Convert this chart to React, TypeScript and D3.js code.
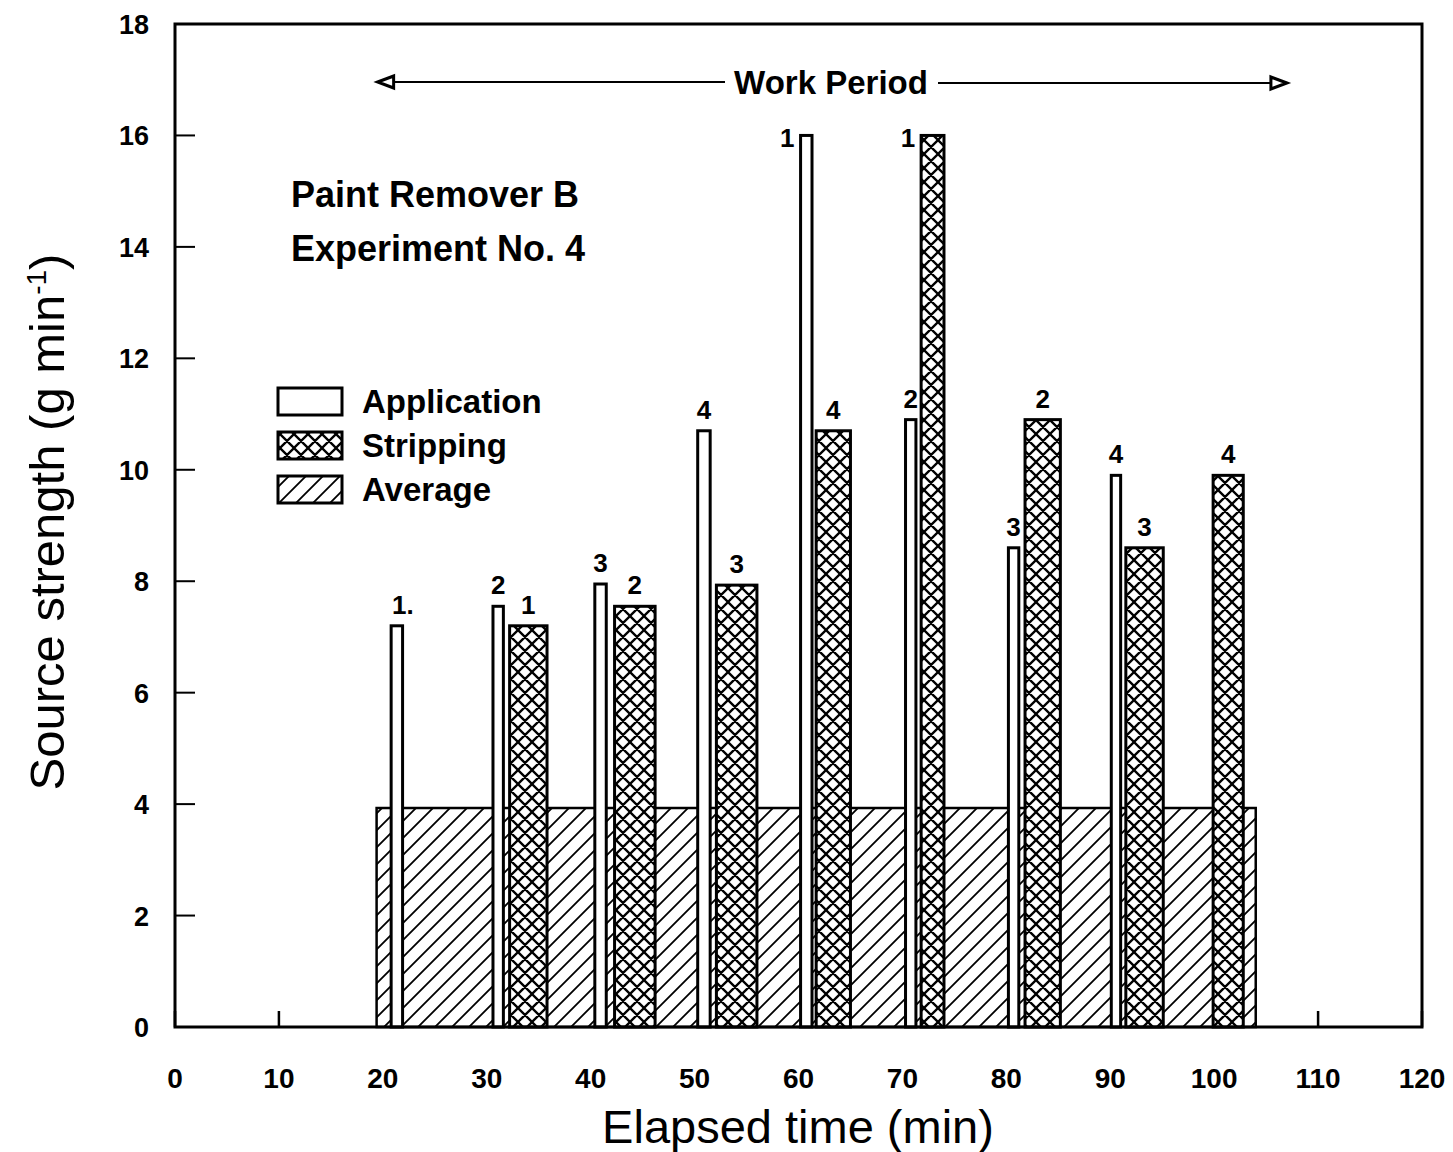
import React from "react";
import * as d3 from "d3";

const xTicks = [0, 10, 20, 30, 40, 50, 60, 70, 80, 90, 100, 110, 120];
const yTicks = [0, 2, 4, 6, 8, 10, 12, 14, 16, 18];

// Application periods (start, end in min) and source strengths
const appStart = [20.8, 30.6, 40.4, 50.3, 60.2, 70.3, 80.2, 90.1];
const appEnd = [21.9, 31.6, 41.5, 51.5, 61.3, 71.3, 81.2, 91.0];
const appValue = [7.2, 7.55, 7.95, 10.7, 16.0, 10.9, 8.6, 9.9];
const appLabel = ["1.", "2", "3", "4", "1", "2", "3", "4"];

// Stripping periods
const stripStart = [32.2, 42.3, 52.1, 61.7, 71.8, 81.8, 91.5, 99.9];
const stripEnd = [35.8, 46.2, 56.0, 65.0, 74.0, 85.2, 95.1, 102.8];
const stripValue = [7.2, 7.55, 7.93, 10.7, 16.0, 10.9, 8.6, 9.9];
const stripLabel = ["1", "2", "3", "4", "1", "2", "3", "4"];

// Average over the work period
const avgStart = [19.4];
const avgEnd = [104.0];
const avgValue = [3.93];

const workPeriod = [19.5, 107.0];

const legendItems = ["Application", "Stripping", "Average"];

const FONT = "'Liberation Sans', Arial, Helvetica, sans-serif";

export default function App() {
  const width = 1453;
  const height = 1152;
  const left = 175, right = 1422, top = 24, bottom = 1027;
  const x = d3.scaleLinear().domain([0, 120]).range([left, right]);
  const y = d3.scaleLinear().domain([0, 18]).range([bottom, top]);

  const sw = 3;
  const legendFills = ["#fff", "url(#cross)", "url(#diag)"];

  return (
    <svg width={width} height={height} style={{ display: "block", position: "absolute", left: 0, top: 0 }}>
      <defs>
        <pattern id="cross" patternUnits="userSpaceOnUse" width={14} height={14}>
          <rect width={14} height={14} fill="#fff" />
          <path d="M0,0 L14,14 M14,0 L0,14 M-3,11 L3,17 M11,-3 L17,3 M-3,3 L3,-3 M11,17 L17,11" stroke="#000" strokeWidth={2.3} />
        </pattern>
        <pattern id="diag" patternUnits="userSpaceOnUse" width={17} height={17}>
          <rect width={17} height={17} fill="#fff" />
          <path d="M0,17 L17,0 M-4,4 L4,-4 M13,21 L21,13" stroke="#000" strokeWidth={1.8} />
        </pattern>
      </defs>
      <rect width={width} height={height} fill="#fff" />

      {/* ticks */}
      {yTicks.map((t) => (
        <line key={"yt" + t} x1={left} x2={left + 20} y1={y(t)} y2={y(t)} stroke="#000" strokeWidth={2} />
      ))}
      {xTicks.map((t) => (
        <line key={"xt" + t} x1={x(t)} x2={x(t)} y1={bottom} y2={bottom - 16} stroke="#000" strokeWidth={2.5} />
      ))}

      {/* average */}
      {avgValue.map((v, i) => (
        <rect key={"avg" + i} x={x(avgStart[i])} y={y(v)} width={x(avgEnd[i]) - x(avgStart[i])} height={y(0) - y(v)}
          fill="url(#diag)" stroke="#000" strokeWidth={2.5} />
      ))}

      {/* stripping */}
      {stripValue.map((v, i) => (
        <rect key={"s" + i} x={x(stripStart[i])} y={y(v)} width={x(stripEnd[i]) - x(stripStart[i])} height={y(0) - y(v)}
          fill="url(#cross)" stroke="#000" strokeWidth={sw} />
      ))}
      {stripValue.map((v, i) => {
        const cx = (x(stripStart[i]) + x(stripEnd[i])) / 2;
        const leftSide = v > 15;
        return (
          <text key={"sl" + i} x={leftSide ? x(stripStart[i]) - 6 : cx} y={leftSide ? y(v) + 12 : y(v) - 12}
            textAnchor={leftSide ? "end" : "middle"} fontFamily={FONT} fontWeight="bold" fontSize={26}>
            {stripLabel[i]}
          </text>
        );
      })}

      {/* application */}
      {appValue.map((v, i) => (
        <rect key={"a" + i} x={x(appStart[i])} y={y(v)} width={x(appEnd[i]) - x(appStart[i])} height={y(0) - y(v)}
          fill="#fff" stroke="#000" strokeWidth={sw} />
      ))}
      {appValue.map((v, i) => {
        const cx = (x(appStart[i]) + x(appEnd[i])) / 2;
        const leftSide = v > 15;
        return (
          <text key={"al" + i} x={leftSide ? x(appStart[i]) - 6 : cx + (appLabel[i] === "1." ? 6 : 0)}
            y={leftSide ? y(v) + 12 : y(v) - 12}
            textAnchor={leftSide ? "end" : "middle"} fontFamily={FONT} fontWeight="bold" fontSize={26}>
            {appLabel[i]}
          </text>
        );
      })}

      {/* frame */}
      <rect x={left} y={top} width={right - left} height={bottom - top} fill="none" stroke="#000" strokeWidth={3} />

      {/* tick labels */}
      {yTicks.map((t) => (
        <text key={"yl" + t} x={149} y={y(t) + 10} textAnchor="end" fontFamily={FONT} fontWeight="bold" fontSize={27}>
          {t}
        </text>
      ))}
      {xTicks.map((t) => (
        <text key={"xl" + t} x={x(t)} y={1088} textAnchor="middle" fontFamily={FONT} fontWeight="bold" fontSize={28}>
          {t}
        </text>
      ))}

      {/* axis titles */}
      <text x={798} y={1143} textAnchor="middle" fontFamily={FONT} fontSize={47}>
        Elapsed time (min)
      </text>
      <text transform={`translate(64, 522) rotate(-90)`} textAnchor="middle" fontFamily={FONT} fontSize={49}>
        Source strength (g min<tspan dy={-18} fontSize={28}>-1</tspan><tspan dy={18}>)</tspan>
      </text>

      {/* Work period */}
      <g stroke="#000" strokeWidth={2}>
        <line x1={x(workPeriod[0]) + 14} x2={725} y1={82} y2={82} />
        <line x1={938} x2={x(workPeriod[1]) - 14} y1={83} y2={83} />
        <path d={`M${x(workPeriod[0])},82 L${x(workPeriod[0]) + 16},76 L${x(workPeriod[0]) + 16},88 Z`} fill="#fff" strokeWidth={3} />
        <path d={`M${x(workPeriod[1])},83 L${x(workPeriod[1]) - 16},77 L${x(workPeriod[1]) - 16},89 Z`} fill="#fff" strokeWidth={3} />
      </g>
      <text x={831} y={94} textAnchor="middle" fontFamily={FONT} fontWeight="bold" fontSize={33}>
        Work Period
      </text>

      {/* annotation */}
      <text x={291} y={207} fontFamily={FONT} fontWeight="bold" fontSize={36}>Paint Remover B</text>
      <text x={291} y={261} fontFamily={FONT} fontWeight="bold" fontSize={36}>Experiment No. 4</text>

      {/* legend */}
      {legendItems.map((name, i) => (
        <g key={name}>
          <rect x={278} y={388 + i * 44} width={64} height={27} fill={legendFills[i]} stroke="#000" strokeWidth={3} />
          <text x={362} y={413 + i * 44} fontFamily={FONT} fontWeight="bold" fontSize={33}>{name}</text>
        </g>
      ))}
    </svg>
  );
}
